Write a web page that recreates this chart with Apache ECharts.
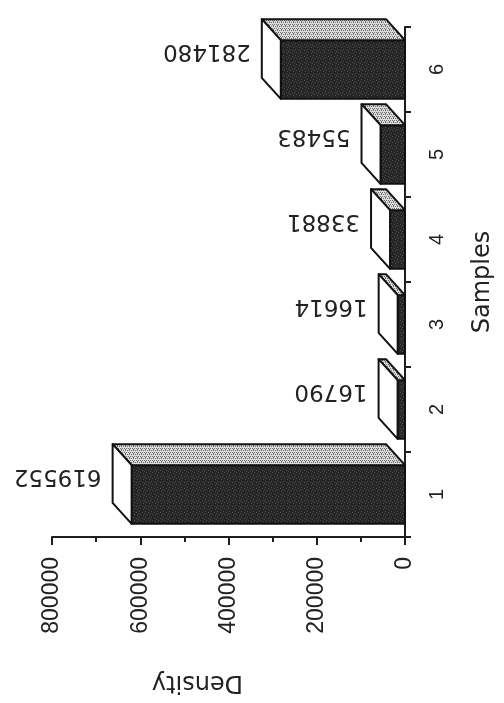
<!DOCTYPE html>
<html>
<head>
<meta charset="utf-8">
<script src="https://cdn.jsdelivr.net/npm/echarts@6/dist/echarts.min.js"></script>
<style>
html,body{margin:0;padding:0;background:#ffffff;}
#chart{width:504px;height:703px;}
</style>
</head>
<body>
<div id="chart"></div>
<script>
// ---- data ----
var categories = ['1', '2', '3', '4', '5', '6'];
var densityValues = [619552, 16790, 16614, 33881, 55483, 281480];
var valueTicks = [0, 200000, 400000, 600000, 800000];
var axisNames = { value: 'Density', category: 'Samples' };

function makePattern(bg, fg, cells, size) {
  var c = document.createElement('canvas');
  c.width = size; c.height = size;
  var g = c.getContext('2d');
  g.fillStyle = bg; g.fillRect(0, 0, size, size);
  g.fillStyle = fg;
  cells.forEach(function (p) { g.fillRect(p[0], p[1], 1, 1); });
  return c;
}
var topPat = makePattern('#dcdcdc', '#6e6e6e', [[0,0],[2,0],[1,2],[3,2],[1,1]], 4);
var frontPat = makePattern('#262626', '#4e4e4e', [[1,1],[4,2],[2,4],[5,5],[0,3]], 6);

var DX = -19, DY = -21;

var chart = echarts.init(document.getElementById('chart'));
chart.setOption({
  backgroundColor: '#ffffff',
  animation: false,
  grid: { left: 52, right: 99, top: 27, bottom: 166, containLabel: false },
  xAxis: {
    type: 'value',
    inverse: true,
    min: valueTicks[0],
    max: valueTicks[valueTicks.length - 1],
    interval: valueTicks[1] - valueTicks[0],
    position: 'bottom',
    name: axisNames.value,
    nameLocation: 'middle',
    nameRotate: 180,
    nameGap: 133,
    nameTextStyle: { fontFamily: 'DejaVu Sans', fontSize: 24, color: '#222', padding: [0, 0, 0, 62] },
    axisLine: { show: true, lineStyle: { color: '#1e1e1e', width: 2 } },
    axisTick: { show: true, length: 8, lineStyle: { color: '#1e1e1e', width: 2 } },
    minorTick: { show: true, splitNumber: 2, length: 5, lineStyle: { color: '#1e1e1e', width: 2 } },
    splitLine: { show: false },
    axisLabel: {
      rotate: 90, margin: 20,
      fontFamily: 'Liberation Sans', fontSize: 23, color: '#222',
      formatter: function (v) { return String(v); }
    }
  },
  yAxis: {
    type: 'category',
    data: categories,
    position: 'right',
    name: axisNames.category,
    nameLocation: 'middle',
    nameRotate: 90,
    nameGap: 66,
    nameTextStyle: { fontFamily: 'DejaVu Sans', fontSize: 24, color: '#222' },
    axisLine: { show: true, onZero: false, lineStyle: { color: '#1e1e1e', width: 2 } },
    axisTick: { show: true, length: 6, lineStyle: { color: '#1e1e1e', width: 2 } },
    splitLine: { show: false },
    axisLabel: {
      rotate: 90, margin: 22,
      fontFamily: 'Liberation Sans', fontSize: 20, color: '#222'
    }
  },
  series: [{
    type: 'custom',
    encode: { x: 1, y: 0 },
    data: densityValues.map(function (v, i) { return [i, v]; }),
    renderItem: function (params, api) {
      var idx = api.value(0);
      var val = api.value(1);
      var p1 = api.coord([val, idx]);
      var p0 = api.coord([0, idx]);
      var band = api.size([0, 1])[1];
      var h = band * 0.69;
      var yT = p1[1] - h / 2, yB = p1[1] + h / 2;
      var xL = p1[0], xR = p0[0];
      var stroke = { stroke: '#111', lineWidth: 2, lineJoin: 'round' };
      return {
        type: 'group',
        children: [
          { type: 'rect', shape: { x: xL, y: yT, width: xR - xL, height: h },
            style: Object.assign({ fill: { image: frontPat, repeat: 'repeat' } }, stroke) },
          { type: 'polygon', shape: { points: [[xL, yT], [xR, yT], [xR + DX, yT + DY], [xL + DX, yT + DY]] },
            style: Object.assign({ fill: { image: topPat, repeat: 'repeat' } }, stroke) },
          { type: 'polygon', shape: { points: [[xL, yT], [xL + DX, yT + DY], [xL + DX, yB + DY], [xL, yB]] },
            style: Object.assign({ fill: '#ffffff' }, stroke) },
          { type: 'text', x: xL + DX - 11, y: p1[1] - 19, rotation: Math.PI,
            style: { text: String(val), align: 'left', verticalAlign: 'middle',
              fontFamily: 'DejaVu Sans', fontSize: 23, fill: '#222' } }
        ]
      };
    }
  }]
});
</script>
</body>
</html>
